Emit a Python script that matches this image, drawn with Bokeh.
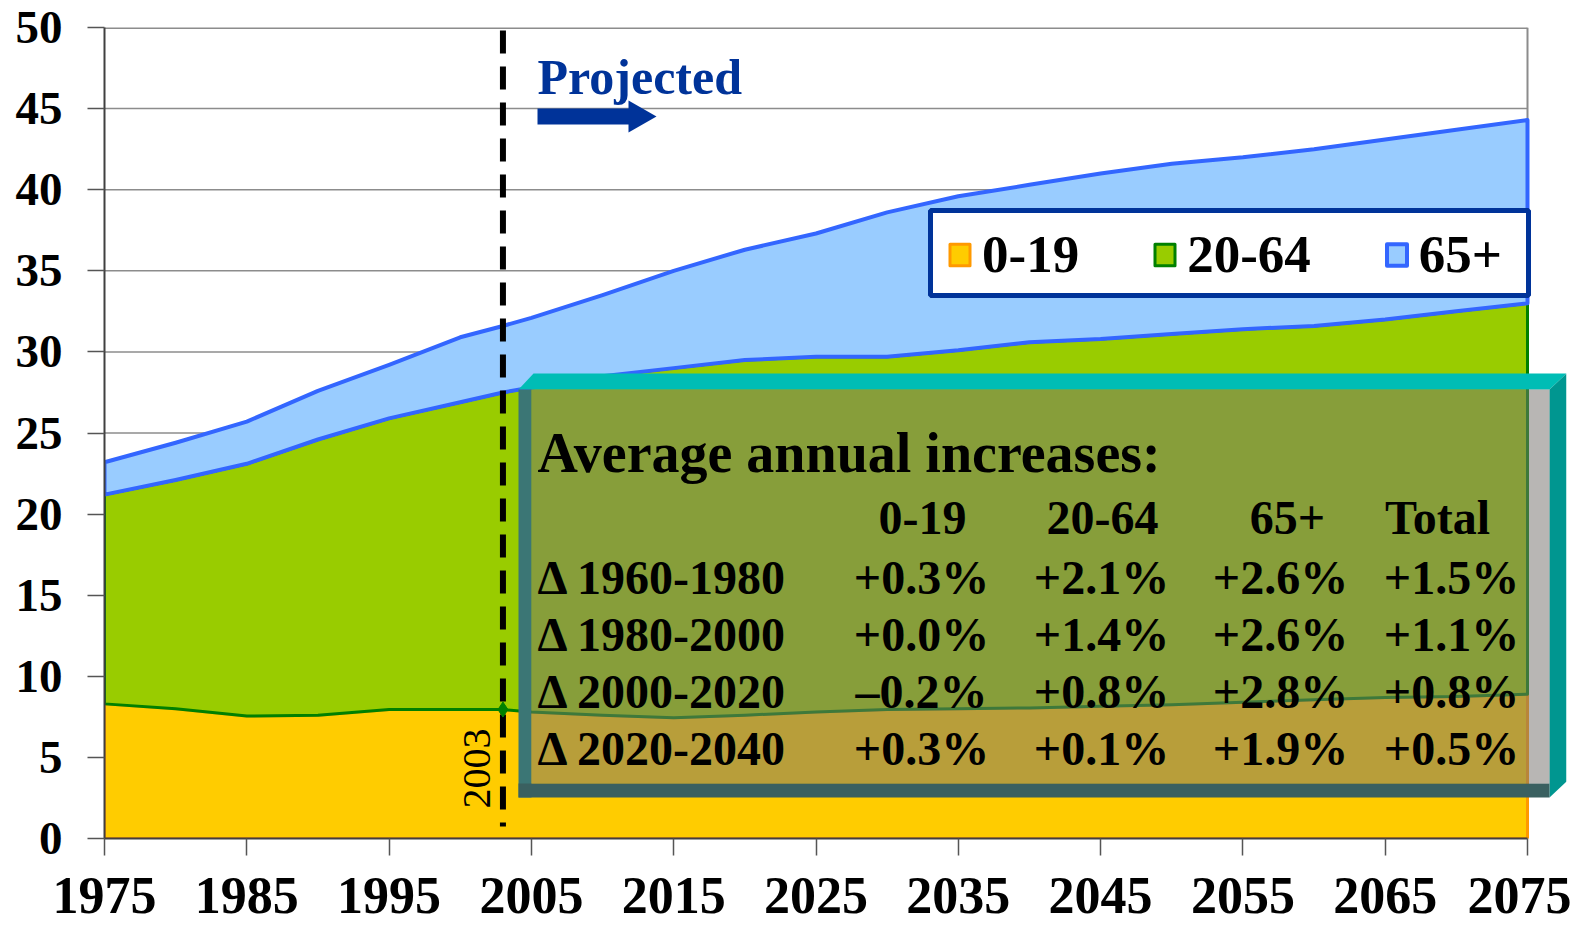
import numpy as np
from bokeh.plotting import figure
from bokeh.models import (FixedTicker, Legend, LegendItem, Label, PolyAnnotation, Range1d)
from bokeh.embed import file_html
from bokeh.resources import INLINE

# ---------------- data ----------------
years = [1975, 1980, 1985, 1990, 1995, 2000, 2003, 2005, 2010, 2015, 2020, 2025,
         2030, 2035, 2040, 2045, 2050, 2055, 2060, 2065, 2070, 2075]
age_0_19 = [8.3, 8.0, 7.55, 7.6, 7.95, 7.95, 7.95, 7.8, 7.6, 7.45, 7.6, 7.8,
            7.95, 8.0, 8.05, 8.15, 8.25, 8.4, 8.55, 8.7, 8.75, 8.9]
age_20_64 = [12.9, 14.1, 15.55, 17.0, 17.95, 18.95, 19.55, 20.0, 20.9, 21.55, 21.9, 21.9,
             21.75, 22.1, 22.55, 22.65, 22.85, 23.0, 23.05, 23.3, 23.75, 24.1]
age_65_plus = [2.0, 2.3, 2.6, 3.0, 3.3, 4.0, 4.1, 4.3, 5.0, 6.0, 6.8, 7.6,
               8.9, 9.5, 9.7, 10.2, 10.5, 10.6, 10.9, 11.1, 11.2, 11.3]
series_labels = ["0-19", "20-64", "65+"]
x_ticks = [1975, 1985, 1995, 2005, 2015, 2025, 2035, 2045, 2055, 2065, 2075]
y_ticks = [0, 5, 10, 15, 20, 25, 30, 35, 40, 45, 50]
marker_year = 2003
projected_text = "Projected"
table_title = "Average annual increases:"
table_cols = ["0-19", "20-64", "65+", "Total"]
table_rows = ["Δ 1960-1980", "Δ 1980-2000", "Δ 2000-2020", "Δ 2020-2040"]
table_vals = [["+0.3%", "+2.1%", "+2.6%", "+1.5%"],
              ["+0.0%", "+1.4%", "+2.6%", "+1.1%"],
              ["–0.2%", "+0.8%", "+2.8%", "+0.8%"],
              ["+0.3%", "+0.1%", "+1.9%", "+0.5%"]]

FONT = "Liberation Serif"
X0, X1 = x_ticks[0], x_ticks[-1]
Y0, Y1 = y_ticks[0], y_ticks[-1]

# picture-pixel -> data helpers (plot area spans x 104..1527, y 27..838)
def X(px):
    return X0 + (px - 104) * (X1 - X0) / 1423.0

def Y(py):
    return (838 - py) * (Y1 - Y0) / 811.0

W, H = 1571, 936
p = figure(width=W, height=H, x_range=Range1d(X0, X(1566)), y_range=Range1d(Y0, Y1),
           output_backend="svg", toolbar_location=None,
           min_border_left=104, min_border_right=W - 1566, min_border_top=27,
           min_border_bottom=H - 838)
p.background_fill_color = "white"
p.border_fill_color = "white"
p.outline_line_color = None
p.xgrid.visible = False
p.ygrid.visible = False

# gridlines and right edge of the plot area (under the areas)
grid_vals = y_ticks[1:]
p.segment(x0=[X0] * len(grid_vals), y0=grid_vals, x1=[X1] * len(grid_vals), y1=grid_vals,
          line_color="#8C8C8C", line_width=[1.5] * (len(grid_vals) - 1) + [3])
p.segment(x0=[X1], y0=[Y0], x1=[X1], y1=[Y1], line_color="#8C8C8C", line_width=2)

# stacked areas
yrs = np.array(years, dtype=float)
c1 = np.array(age_0_19)
c2 = c1 + np.array(age_20_64)
c3 = c2 + np.array(age_65_plus)
xs = np.concatenate([yrs, yrs[::-1]])
r_y = p.patch(xs, np.concatenate([c1, np.zeros_like(c1)]), fill_color="#FFCC00",
              line_color="#FF9900", line_width=3, line_join="round")
r_g = p.patch(xs, np.concatenate([c2, c1[::-1]]), fill_color="#99CC00",
              line_color="#008000", line_width=3, line_join="round")
r_b = p.patch(xs, np.concatenate([c3, c2[::-1]]), fill_color="#99CCFF",
              line_color="#3366FF", line_width=4, line_join="round")

# 2003 marker line
p.segment(x0=[marker_year], y0=[Y(30)], x1=[marker_year], y1=[Y(826)],
          line_color="black", line_width=6, line_dash="23 13")
idx = years.index(marker_year)
p.scatter([marker_year], [c1[idx]], marker="diamond", size=15, color="#008000")

# axes
p.xaxis.ticker = FixedTicker(ticks=x_ticks)
p.yaxis.ticker = FixedTicker(ticks=y_ticks)
p.xaxis.bounds = (X0, X1)
for ax in (p.xaxis[0], p.yaxis[0]):
    ax.major_label_text_font = FONT
    ax.major_label_text_font_style = "bold"
    ax.major_label_text_color = "black"
    ax.axis_line_color = "#404040"
    ax.axis_line_width = 2
    ax.major_tick_line_color = "#555555"
    ax.major_tick_line_width = 1.5
    ax.major_tick_out = 17
    ax.major_tick_in = 0
    ax.minor_tick_out = 0
    ax.minor_tick_in = 0
p.xaxis.major_label_text_font_size = "52px"
p.xaxis.major_label_standoff = 22
p.yaxis.major_label_text_font_size = "47px"
p.yaxis.major_label_standoff = 25

def poly(pts, color, alpha=1.0, line_color=None, line_width=1):
    p.add_layout(PolyAnnotation(xs=[X(a) for a, b in pts], ys=[Y(b) for a, b in pts],
                                fill_color=color, fill_alpha=alpha, line_color=line_color,
                                line_width=line_width, line_alpha=1.0))

# legend box + legend
poly([(930, 210), (1528, 210), (1528, 295), (930, 295)], "white", 1.0, "#003399", 5)
legend = Legend(items=[LegendItem(label=lab, renderers=[r])
                       for lab, r in zip(series_labels, [r_y, r_g, r_b])],
                orientation="horizontal", location=(843, 838 - 284))
legend.label_text_font = FONT
legend.label_text_font_style = "bold"
legend.label_text_font_size = "53px"
legend.label_text_color = "black"
legend.glyph_width = 25
legend.glyph_height = 27
legend.label_standoff = 10
legend.spacing = 73
legend.padding = 10
legend.margin = 0
legend.border_line_color = None
legend.background_fill_alpha = 0.0
p.add_layout(legend)

# projected label + arrow
p.add_layout(Label(x=X(537), y=Y(76), text=projected_text, text_font=FONT,
                   text_font_style="bold", text_font_size="50px", text_color="#003399",
                   text_baseline="alphabetic", text_align="left"))
arrow_px = [(537, 108), (628, 108), (628, 100), (656, 116), (628, 132), (628, 124), (537, 124)]
poly(arrow_px, "#003399")

p.add_layout(Label(x=X(476), y=Y(768), text=str(marker_year), angle=np.pi / 2,
                   text_font=FONT, text_font_size="40px", text_color="black",
                   text_align="center", text_baseline="middle"))

# 3D text box
poly([(518, 389), (533, 373), (1566, 373), (1549, 389)], "#00BDB5")
poly([(1549, 389), (1566, 373), (1566, 781), (1549, 797)], "#009690")
poly([(518, 389), (531, 389), (531, 797), (518, 797)], "#3B7675")
poly([(518, 783), (1549, 783), (1549, 797), (518, 797)], "#3A6060")
poly([(531, 389), (1549, 389), (1549, 783), (531, 783)], "#767370", 0.52)

def txt(px, py, s, align="left", size="48px"):
    p.add_layout(Label(x=X(px), y=Y(py), text=s, text_font=FONT, text_font_style="bold",
                       text_font_size=size, text_color="black", text_align=align,
                       text_baseline="alphabetic"))

txt(537, 452, table_title, "left", "56px")
head_cx = [922, 1102, 1287, 1437]
val_cx = [921, 1101, 1280, 1451]
for cx, s in zip(head_cx, table_cols):
    txt(cx, 517, s, "center", "48px")
row_base = [577, 634, 691, 748]
for by, lab, vals in zip(row_base, table_rows, table_vals):
    txt(537, by, lab, "left", "48px")
    for cx, v in zip(val_cx, vals):
        txt(cx, by, v, "center", "48px")

open("out.html", "w").write(file_html(p, INLINE))
